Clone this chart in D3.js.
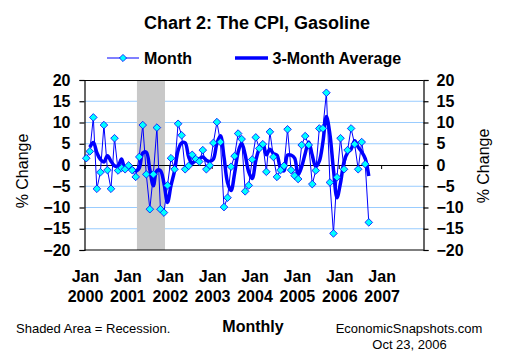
<!DOCTYPE html>
<html>
<head>
<meta charset="utf-8">
<script src="https://cdn.jsdelivr.net/npm/d3@7"></script>
<style>
  html, body { margin: 0; padding: 0; background: #fff; }
  svg { display: block; font-family: Arial, "Liberation Sans", sans-serif; }
</style>
</head>
<body>
<svg id="chart" width="510" height="360"></svg>
<script>
// ---- data ----
const startMonth = "2000-01";
const monthly = [
  1.6, 3.2, 11.2, -5.6, -1.7, 9.4, -1.2, -5.6, 6.3, -1.3, -0.7, -1.0,
  -0.1, -1.2, -2.8, 1.9, 9.4, -2.2, -10.4, -2.2, 8.8, -10.4, -11.2, -4.8,
  1.6, -1.0, 9.7, 7.0, -1.0, -0.2, 2.4, 1.4, 0.8, 3.5, -1.0, -0.1,
  5.2, 10.1, 5.4, -9.9, -7.7, -0.4, 2.1, 7.4, 6.1, -6.2, -4.8, 1.3,
  6.5, 3.9, 4.9, -1.6, 7.8, 1.9, -2.8, -1.2, -0.2, 8.4, -1.2, -2.5,
  -3.3, 4.7, 6.8, 4.7, -4.5, -1.3, 8.6, 8.6, 17.0, -4.1, -16.1, -2.9,
  6.3, -1.0, 3.5, 8.6, 4.9, -1.0, 5.4, 0.2, -13.5
];
const threeMonthAvg = [
  null, 4.2, 5.3, 2.9, 1.3, 0.7, 2.2, 0.9, -0.2, -0.2, 1.4, -1.0,
  -0.6, -0.8, -1.4, -0.7, 2.8, 3.0, -1.1, -4.9, -1.3, -1.3, -4.3, -8.8,
  -4.8, -1.4, 3.4, 5.2, 5.2, 1.9, 0.4, 1.2, 1.5, 1.9, 1.1, 0.8,
  1.4, 5.1, 6.9, 1.9, -4.1, -6.0, -2.0, 3.0, 5.2, 2.4, -1.6, -3.2,
  1.0, 3.9, 5.1, 2.4, 3.7, 2.7, 2.3, -0.7, -1.4, 2.3, 2.3, 1.6,
  -2.3, -0.4, 2.7, 5.4, 2.3, -0.4, 0.9, 5.3, 11.4, 7.2, -1.1, -7.7,
  -4.2, 0.8, 2.9, 3.7, 5.7, 4.2, 3.1, 1.5, -2.6
];
const yearLabels = ["2000", "2001", "2002", "2003", "2004", "2005", "2006", "2007"];
const yTicks = [-20, -15, -10, -5, 0, 5, 10, 15, 20];
const recession = [14.85, 22.8]; // months since Jan 2000 (Mar 2001 - Nov 2001)
const seriesNames = ["Month", "3-Month Average"];

// ---- layout ----
const svg = d3.select("#chart");
const L = 84.5, R = 423.5, T = 80, B = 250;
const x = d3.scaleLinear().domain([0, 96]).range([L, R]);
const y = d3.scaleLinear().domain([-20, 20]).range([B, T]);
const font = 'Arial, "Liberation Sans", sans-serif';

// gridlines
svg.append("g").selectAll("line")
  .data(yTicks.filter(v => v !== 0 && Math.abs(v) !== 20))
  .join("line")
  .attr("x1", L).attr("x2", R)
  .attr("y1", d => y(d)).attr("y2", d => y(d))
  .attr("stroke", "#99ccff").attr("stroke-width", 1);

// recession shading
svg.append("rect")
  .attr("x", x(recession[0])).attr("y", T)
  .attr("width", x(recession[1]) - x(recession[0]))
  .attr("height", B - T)
  .attr("fill", "#c8c8c8");

// borders top/bottom
svg.append("line").attr("x1", L).attr("x2", R).attr("y1", T + 0.5).attr("y2", T + 0.5)
  .attr("stroke", "#000").attr("stroke-width", 1);
svg.append("line").attr("x1", L).attr("x2", R).attr("y1", B).attr("y2", B)
  .attr("stroke", "#000").attr("stroke-width", 1.2);

// y axes
const yAxisL = d3.axisLeft(y).tickValues(yTicks).tickSize(5).tickPadding(9).tickFormat(d3.format("d"));
const yAxisR = d3.axisRight(y).tickValues(yTicks).tickSize(5).tickPadding(8).tickFormat(d3.format("d"));
const gl = svg.append("g").attr("transform", `translate(${L},0)`).call(yAxisL);
const gr = svg.append("g").attr("transform", `translate(${R},0)`).call(yAxisR);
[gl, gr].forEach(g => {
  g.select(".domain").attr("stroke", "#000").attr("stroke-width", 1.2);
  g.selectAll(".tick line").attr("stroke", "#000").attr("stroke-width", 1.2);
  g.selectAll(".tick text").attr("font-family", font).attr("font-size", 16)
    .attr("font-weight", "bold").attr("fill", "#000");
});

// zero line axis with year ticks
const xAxis = d3.axisBottom(x).tickValues(d3.range(0, 97, 12)).tickSize(4).tickFormat("");
const gx = svg.append("g").attr("transform", `translate(0,${y(0)})`).call(xAxis);
gx.select(".domain").attr("stroke", "#000").attr("stroke-width", 1.2);
gx.selectAll(".tick line").attr("stroke", "#000").attr("stroke-width", 1);

// x labels
const xl = svg.append("g");
yearLabels.forEach((yr, k) => {
  const t = xl.append("text").attr("x", x(k * 12) + 1).attr("text-anchor", "middle")
    .attr("font-family", font).attr("font-size", 16).attr("font-weight", "bold");
  t.append("tspan").attr("x", x(k * 12) + 1).attr("y", 282).text("Jan");
  t.append("tspan").attr("x", x(k * 12) + 1).attr("y", 302).text(yr);
});

// series
const pts = monthly.map((v, i) => ({ i, v }));
svg.append("path")
  .datum(pts)
  .attr("d", d3.line().x(d => x(d.i + 0.5)).y(d => y(d.v)))
  .attr("fill", "none").attr("stroke", "#0000ff").attr("stroke-width", 1);

const avgPts = threeMonthAvg.map((v, i) => ({ i, v })).filter(d => d.v !== null);
svg.append("path")
  .datum(avgPts)
  .attr("d", d3.line().curve(d3.curveCatmullRom.alpha(0.5)).x(d => x(d.i + 0.5)).y(d => y(d.v)))
  .attr("fill", "none").attr("stroke", "#0000ff").attr("stroke-width", 3.5)
  .attr("stroke-linejoin", "round");

const diamond = r => `M0,${-r}L${r},0L0,${r}L${-r},0Z`;
svg.append("g").selectAll("path")
  .data(pts)
  .join("path")
  .attr("d", diamond(3.8))
  .attr("transform", d => `translate(${x(d.i + 0.5)},${y(d.v)})`)
  .attr("fill", "#00ffff").attr("stroke", "#0000ff").attr("stroke-width", 0.8);

// title
svg.append("text").attr("x", 257).attr("y", 28.5).attr("text-anchor", "middle")
  .attr("font-family", font).attr("font-size", 18).attr("font-weight", "bold")
  .text("Chart 2: The CPI, Gasoline");

// legend
const lg = svg.append("g");
lg.append("line").attr("x1", 107).attr("x2", 139).attr("y1", 58).attr("y2", 58)
  .attr("stroke", "#0000ff").attr("stroke-width", 1);
lg.append("path").attr("d", diamond(3.6)).attr("transform", "translate(123,58)")
  .attr("fill", "#00ffff").attr("stroke", "#0000ff").attr("stroke-width", 0.8);
lg.append("text").attr("x", 144).attr("y", 64).attr("font-family", font)
  .attr("font-size", 16).attr("font-weight", "bold").text(seriesNames[0]);
lg.append("line").attr("x1", 235).attr("x2", 268).attr("y1", 58).attr("y2", 58)
  .attr("stroke", "#0000ff").attr("stroke-width", 3.5);
lg.append("text").attr("x", 272.5).attr("y", 64).attr("font-family", font)
  .attr("font-size", 16).attr("font-weight", "bold").text(seriesNames[1]);

// axis titles
svg.append("text").attr("transform", "translate(28,171) rotate(-90)")
  .attr("text-anchor", "middle").attr("font-family", font).attr("font-size", 16)
  .text("% Change");
svg.append("text").attr("transform", "translate(489,166) rotate(-90)")
  .attr("text-anchor", "middle").attr("font-family", font).attr("font-size", 16)
  .text("% Change");

// footer
svg.append("text").attr("x", 16).attr("y", 333).attr("font-family", font)
  .attr("font-size", 13).text("Shaded Area = Recession.");
svg.append("text").attr("x", 253).attr("y", 332).attr("text-anchor", "middle")
  .attr("font-family", font).attr("font-size", 16).attr("font-weight", "bold").text("Monthly");
svg.append("text").attr("x", 409).attr("y", 333).attr("text-anchor", "middle")
  .attr("font-family", font).attr("font-size", 13).text("EconomicSnapshots.com");
svg.append("text").attr("x", 409.5).attr("y", 349).attr("text-anchor", "middle")
  .attr("font-family", font).attr("font-size", 13).text("Oct 23, 2006");
</script>
</body>
</html>
